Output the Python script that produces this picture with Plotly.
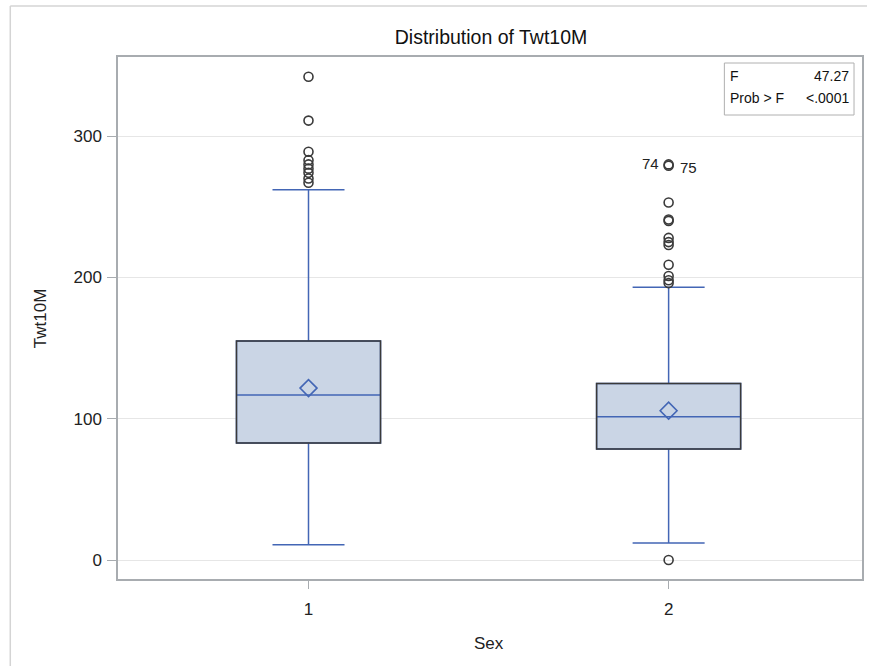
import plotly.graph_objects as go

# ---- data ----
sex = [1, 2]
q1 = [82.8, 78.6]
median = [116.8, 101.4]
q3 = [155.0, 125.0]
lower_whisker = [10.8, 12.0]
upper_whisker = [262.0, 193.0]
means = [121.7, 105.7]
outliers_1 = [342, 311, 289, 283, 280, 277, 274, 270, 267]
outliers_2 = [253, 241, 240, 228, 225, 223, 209, 201, 198, 196, 0]
labeled_vals = [280, 279]
labeled_ids = ["74", "75"]
stat_labels = ["F", "Prob > F"]
stat_values = ["47.27", "<.0001"]
title = "Distribution of Twt10M"
x_title = "Sex"
y_title = "Twt10M"

BLUE = "#4366B5"
FILL = "#CAD5E5"
DARK = "#3A3A3A"
FONT = "Liberation Sans, Arial, sans-serif"
BOXW = 0.40

fig = go.Figure()

for i, s in enumerate(sex):
    fig.add_trace(go.Box(
        x=[s], q1=[q1[i]], median=[median[i]], q3=[q3[i]],
        lowerfence=[lower_whisker[i]], upperfence=[upper_whisker[i]],
        width=BOXW, whiskerwidth=0.5,
        fillcolor=FILL, line=dict(color=BLUE, width=1.5),
        boxpoints=False, showlegend=False, hoverinfo="skip",
    ))
    # dark outline of the box
    fig.add_shape(type="rect", xref="x", yref="y",
                  x0=s - BOXW / 2, x1=s + BOXW / 2, y0=q1[i], y1=q3[i],
                  line=dict(color=DARK, width=1.5), fillcolor="rgba(0,0,0,0)",
                  layer="above")

# means
fig.add_trace(go.Scatter(
    x=sex, y=means, mode="markers",
    marker=dict(symbol="diamond-open", size=13, color=BLUE, line=dict(width=1.6)),
    showlegend=False, hoverinfo="skip"))

# outliers
out_x = [1] * len(outliers_1) + [2] * len(outliers_2) + [2] * len(labeled_vals)
out_y = outliers_1 + outliers_2 + labeled_vals
fig.add_trace(go.Scatter(
    x=out_x, y=out_y, mode="markers",
    marker=dict(symbol="circle-open", size=9, color=DARK, line=dict(width=1.6)),
    showlegend=False, hoverinfo="skip"))

# labels for the two labelled points
fig.add_annotation(x=2, y=labeled_vals[0], xref="x", yref="y", text=labeled_ids[0],
                   showarrow=False, xanchor="right", yanchor="middle", xshift=-8, yshift=1,
                   font=dict(family=FONT, size=15, color="#222"))
fig.add_annotation(x=2, y=labeled_vals[1], xref="x", yref="y", text=labeled_ids[1],
                   showarrow=False, xanchor="left", yanchor="middle", xshift=9, yshift=-2,
                   font=dict(family=FONT, size=15, color="#222"))

W, H = 869, 666
L, R, T, B = 118, 5, 57, 87
pw, ph = W - L - R, H - T - B

def px(x):
    return (x - L) / pw

def py(y):
    return (H - B - y) / ph

# stats inset box
fig.add_shape(type="rect", xref="paper", yref="paper",
              x0=px(726), x1=px(856), y0=py(115), y1=py(63),
              line=dict(color="#B0B0B0", width=1), fillcolor="white", layer="above")
for k, (lab, val) in enumerate(zip(stat_labels, stat_values)):
    yy = py(76 + 22 * k)
    fig.add_annotation(xref="paper", yref="paper", x=px(730), y=yy, text=lab,
                       showarrow=False, xanchor="left", yanchor="middle",
                       font=dict(family=FONT, size=14, color="#111"))
    fig.add_annotation(xref="paper", yref="paper", x=px(853), y=yy, text=val,
                       showarrow=False, xanchor="right", yanchor="middle",
                       font=dict(family=FONT, size=14, color="#111"))

# outer frame lines
fig.add_shape(type="line", xref="paper", yref="paper",
              x0=px(10), x1=px(869), y0=py(6), y1=py(6),
              line=dict(color="#D4D4D4", width=1.5))
fig.add_shape(type="line", xref="paper", yref="paper",
              x0=px(10), x1=px(10), y0=py(6), y1=py(666),
              line=dict(color="#D4D4D4", width=1.5))

# axis titles
fig.add_annotation(xref="paper", yref="paper", x=px(40), y=py(318), text=y_title,
                   textangle=-90, showarrow=False, xanchor="center", yanchor="middle",
                   font=dict(family=FONT, size=17, color="#222"))
fig.add_annotation(xref="paper", yref="paper", x=px(490), y=py(643), text=x_title,
                   showarrow=False, xanchor="center", yanchor="middle",
                   font=dict(family=FONT, size=17, color="#222"))

fig.update_layout(
    width=W, height=H,
    margin=dict(l=L, r=R, t=T, b=B),
    paper_bgcolor="white", plot_bgcolor="white",
    title=dict(text=title, x=491 / W, xanchor="center", y=1 - 37 / H, yanchor="middle",
               font=dict(family=FONT, size=19.5, color="#111")),
    font=dict(family=FONT),
    xaxis=dict(range=[0.471, 2.537], tickvals=sex, ticktext=[str(s) for s in sex],
               showgrid=False, zeroline=False, showline=True, mirror=True,
               linecolor="#A8ACB0", linewidth=1.5, ticks="outside", ticklen=8,
               tickcolor="#A8ACB0", tickfont=dict(size=17, color="#222"),
               ticklabelstandoff=6),
    yaxis=dict(range=[-13.4, 356], tickvals=[0, 100, 200, 300],
               showgrid=True, gridcolor="#E6E6E6", gridwidth=1, zeroline=False,
               showline=True, mirror=True, linecolor="#A8ACB0", linewidth=1.5,
               ticks="outside", ticklen=9, tickcolor="#A8ACB0",
               tickfont=dict(size=17, color="#222"), ticklabelstandoff=2),
)

fig.write_html("out.html")
